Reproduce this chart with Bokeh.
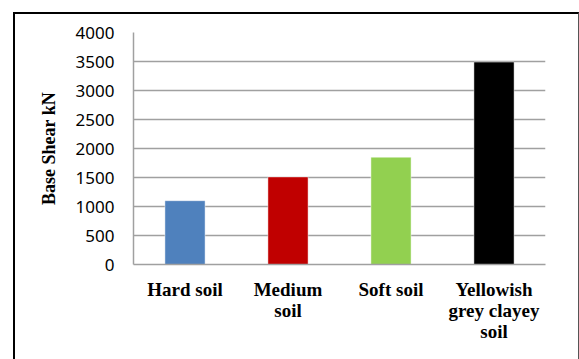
from bokeh.plotting import figure
from bokeh.models import ColumnDataSource, FactorRange, CategoricalAxis
from bokeh.embed import file_html
from bokeh.resources import INLINE

# Base shear for each soil type
soils = ["Hard soil", "Medium soil", "Soft soil", "Yellowish grey clayey soil"]
# Category names wrapped over three lines (blank slots are distinct whitespace)
label_rows = [
    ["Hard soil", "Medium", "Soft soil", "Yellowish"],
    [" ", "soil", "  ", "grey clayey"],
    [" ", "  ", "   ", "soil"],
]
base_shear = [1100, 1510, 1850, 3490]
colors = ["#4F81BD", "#C00000", "#92D050", "#000000"]
y_ticks = [0, 500, 1000, 1500, 2000, 2500, 3000, 3500, 4000]

source = ColumnDataSource(data=dict(soil=soils, shear=base_shear, color=colors))

p = figure(
    x_range=FactorRange(factors=soils),
    y_range=(0, 4000),
    width=566,
    height=347,
    min_border_left=118,
    min_border_right=36,
    min_border_top=18,
    min_border_bottom=97,
    output_backend="svg",
    toolbar_location=None,
    tools="",
)
p.margin = (12, 0, 0, 13)
p.styles = {
    "border-top": "2px solid #000000",
    "border-left": "2px solid #000000",
    "border-right": "1px solid #555555",
    "box-sizing": "border-box",
}

p.vbar(x="soil", top="shear", width=0.39, source=source,
       fill_color="color", line_color="white", line_alpha=0.45, line_width=1)

p.outline_line_color = None
p.background_fill_color = "white"
p.border_fill_color = "white"

# y axis
p.yaxis.ticker = y_ticks
p.yaxis.axis_label = "Base Shear kN"
p.yaxis.axis_label_text_font = "Liberation Serif"
p.yaxis.axis_label_text_font_style = "bold"
p.yaxis.axis_label_text_font_size = "18px"
p.yaxis.axis_label_text_color = "#000000"
p.yaxis.axis_label_standoff = 14
p.yaxis.major_label_text_font = "Noto Sans"
p.yaxis.major_label_text_font_size = "17px"
p.yaxis.major_label_text_color = "#000000"
p.yaxis.major_label_standoff = 19
p.yaxis.major_tick_out = 0
p.yaxis.major_tick_in = 0
p.yaxis.minor_tick_out = 0
p.yaxis.minor_tick_in = 0
p.yaxis.axis_line_color = "#A0A0A0"
p.yaxis.axis_line_width = 1.5


def style_x_axis(axis, standoff):
    axis.major_label_text_font = "Liberation Serif"
    axis.major_label_text_font_style = "bold"
    axis.major_label_text_font_size = "19px"
    axis.major_label_text_color = "#000000"
    axis.major_label_standoff = standoff
    axis.major_label_orientation = "horizontal"
    axis.major_tick_out = 0
    axis.major_tick_in = 0


# x axis: one stacked axis per line of the wrapped category names
for k, row in enumerate(label_rows):
    p.extra_x_ranges[f"row{k}"] = FactorRange(factors=row)

xaxis = p.xaxis[0]
xaxis.x_range_name = "row0"
xaxis.axis_line_color = "#A0A0A0"
xaxis.axis_line_width = 1.5
style_x_axis(xaxis, 14)
for k in range(1, len(label_rows)):
    extra = CategoricalAxis(x_range_name=f"row{k}")
    extra.axis_line_color = None
    style_x_axis(extra, -3)
    p.add_layout(extra, "below")

p.xgrid.grid_line_color = None
p.ygrid.grid_line_color = "#A0A0A0"
p.ygrid.grid_line_width = 1.5

open("out.html", "w").write(file_html(p, INLINE))
